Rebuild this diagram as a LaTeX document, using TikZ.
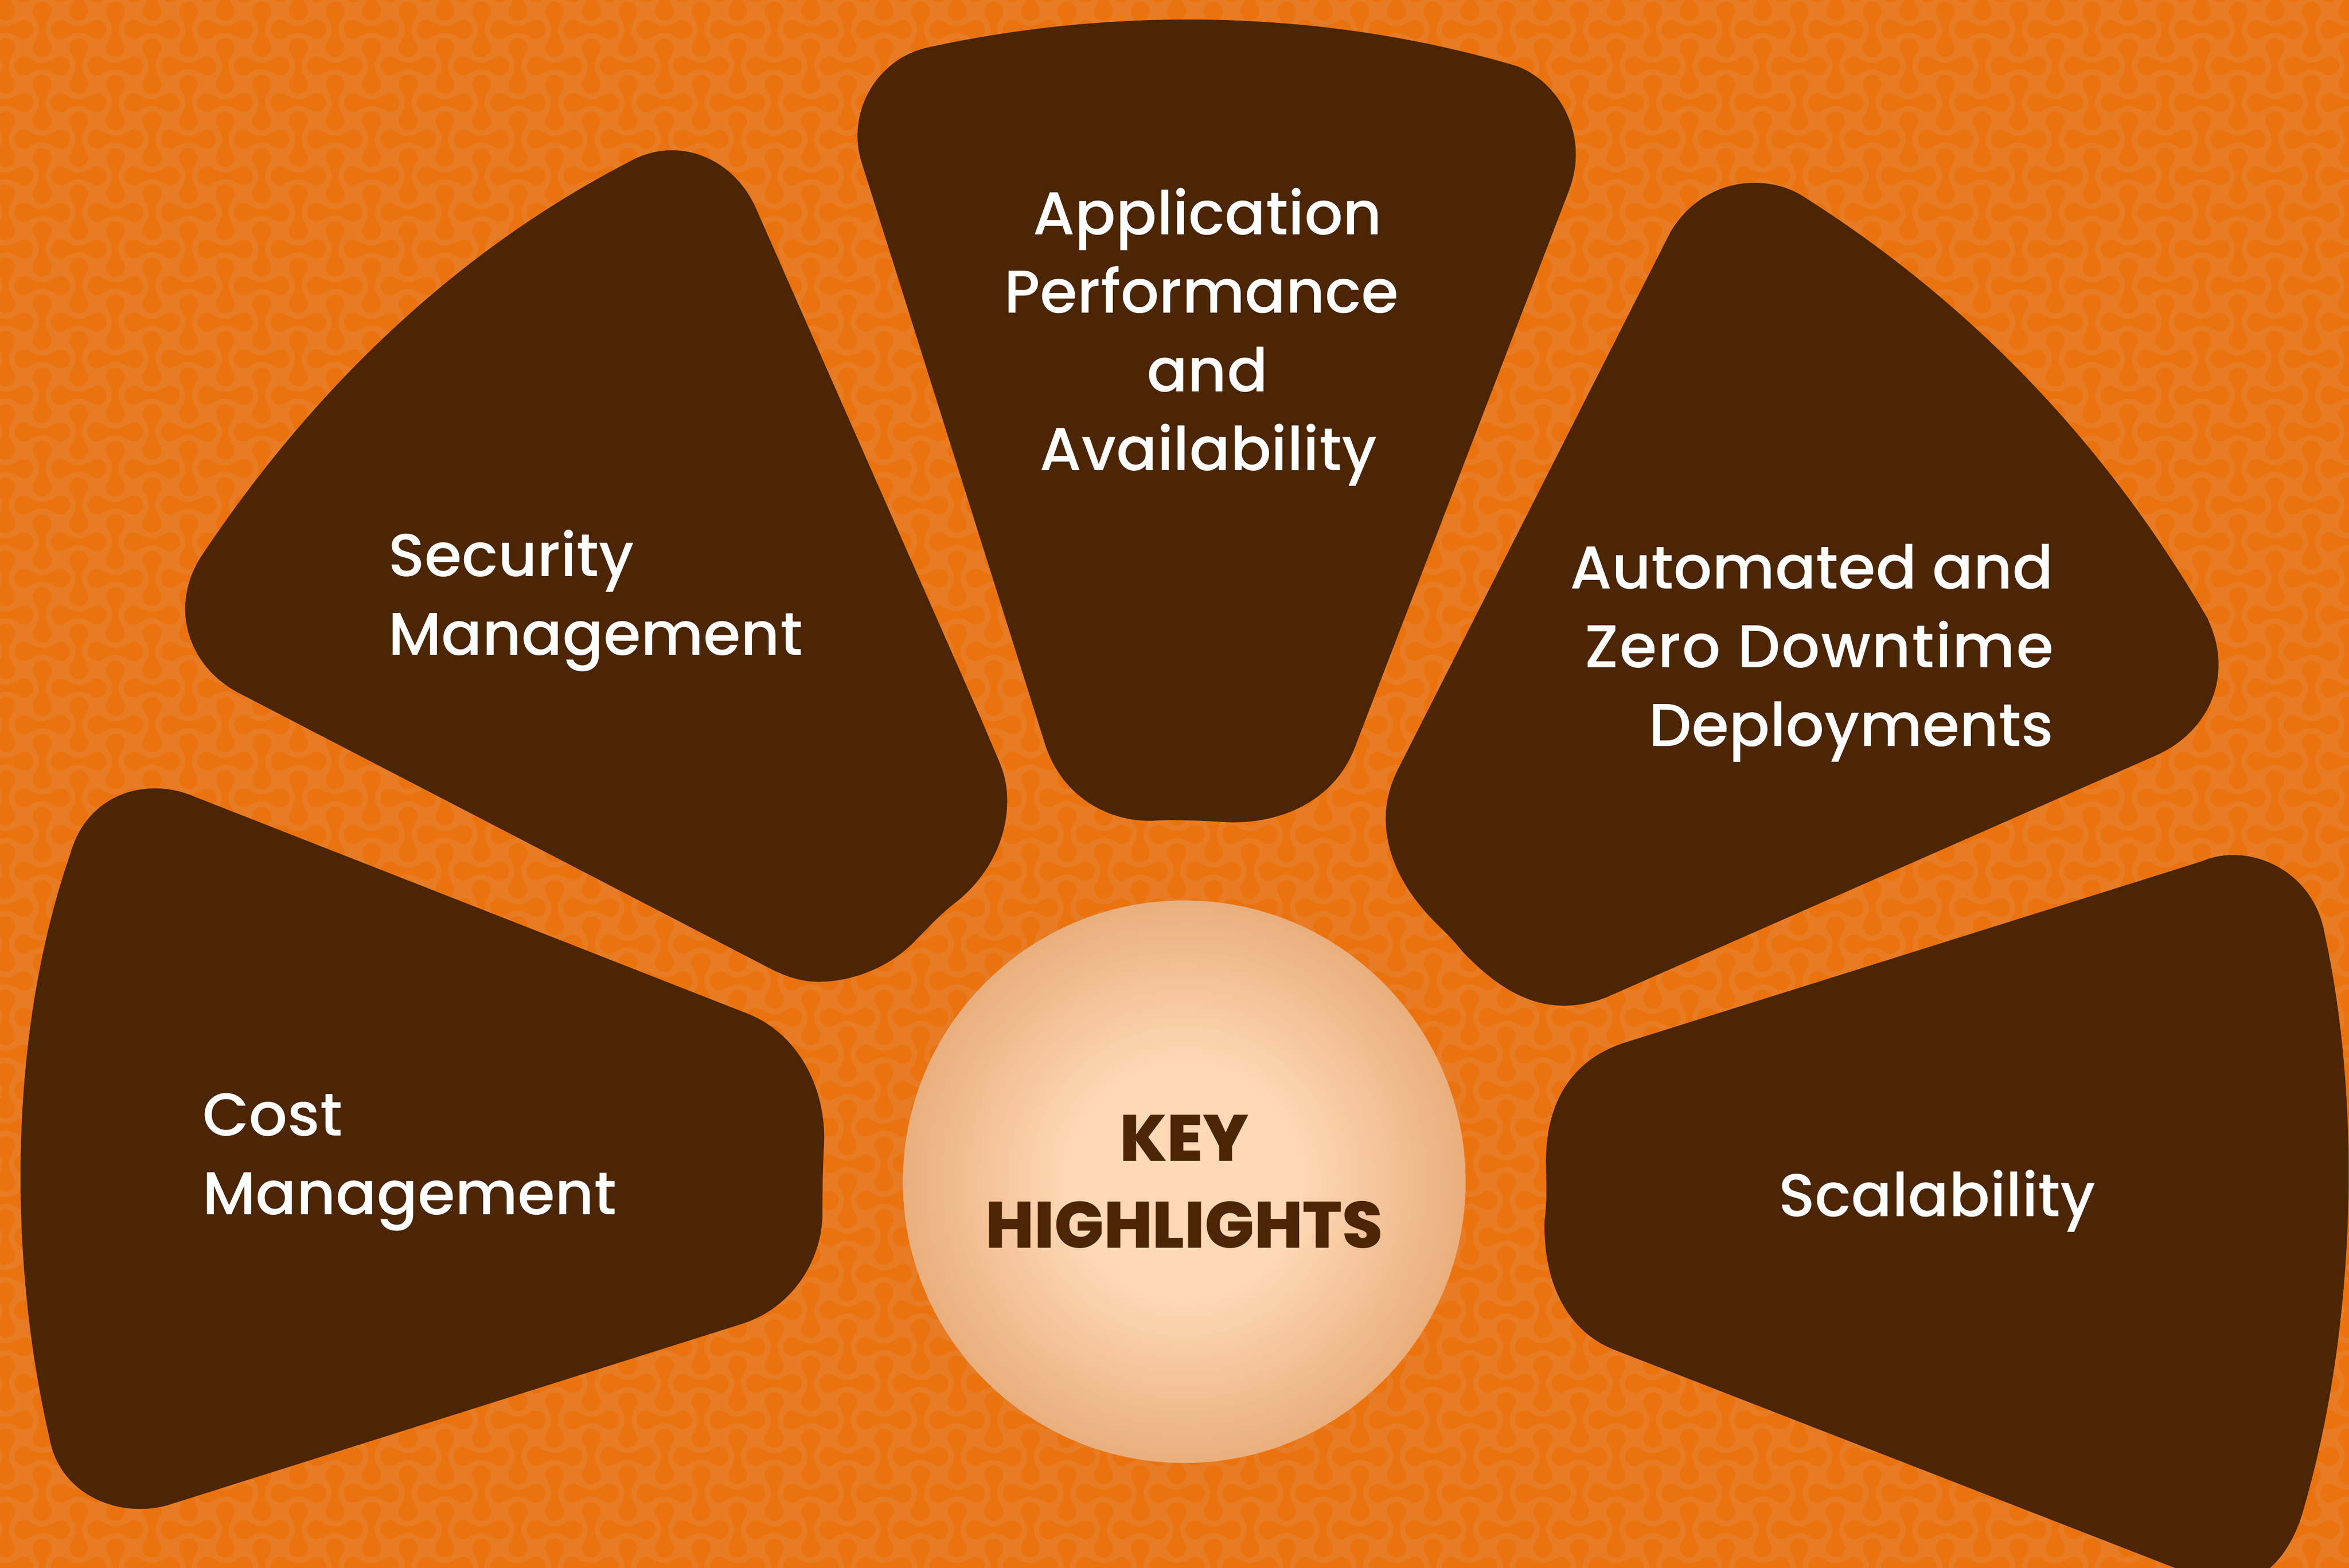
\documentclass[tikz,border=0pt]{standalone}
\usepackage{fontspec}
\setmainfont{Poppins Medium}
\newfontfamily\heavyfont{Poppins ExtraBold}
\definecolor{bglight}{HTML}{E87C24}
\definecolor{bgdark}{HTML}{EB730F}
\definecolor{petal}{HTML}{4B2504}
\definecolor{glowin}{HTML}{FFD8B5}
\definecolor{glowout}{HTML}{E9AF7E}
\tikzset{
  petalshape/.style={fill=petal},
  petaltext/.style={text=white,font=\fontsize{60.5}{78.8}\selectfont,inner sep=0pt},
  hubtext/.style={text=petal,font=\fontsize{65.5}{87}\heavyfont,inner sep=0pt,align=center},
}
% one dumbbell; it is left out when it would lie wholly under a petal or the hub
\newcommand{\inbox}[4]{(\cx>#1)*(\cx<#2)*(\cy>#3)*(\cy<#4)}
\newcommand{\bellshape}[3]{%
  \pgfmathsetmacro{\cx}{#1*0.31868}%
  \pgfmathsetmacro{\cy}{#2*0.31868}%
  \pgfmathtruncatemacro{\hid}{\inbox{690}{920}{45}{400}+\inbox{300}{530}{200}{510}+\inbox{1100}{1320}{260}{530}+\inbox{40}{480}{695}{865}+\inbox{1070}{1540}{715}{885}+\inbox{690}{890}{690}{890}}%
  \ifnum\hid=0
  \fill[shift={(#1,#2)},rotate=#3] (0,-7) .. controls (9,-7) and (20.2,-11.8) .. (26.83,-16.38)
     .. controls (35.14,-22.2) and (46.51,-20.87) .. (53.25,-13.29)
     .. controls (59.99,-5.71) and (59.99,5.71) .. (53.25,13.29)
     .. controls (46.51,20.87) and (35.14,22.2) .. (26.83,16.38)
     .. controls (20.2,11.8) and (9,7) .. (0,7)
     .. controls (-9,7) and (-20.2,11.8) .. (-26.83,16.38)
     .. controls (-35.14,22.2) and (-46.51,20.87) .. (-53.25,13.29)
     .. controls (-59.99,5.71) and (-59.99,-5.71) .. (-53.25,-13.29)
     .. controls (-46.51,-20.87) and (-35.14,-22.2) .. (-26.83,-16.38)
     .. controls (-20.2,-11.8) and (-9,-7) .. (0,-7) -- cycle;
  \fi
}
\begin{document}
\begin{tikzpicture}[x=1.5pt,y=-1.5pt]
\useasboundingbox (0,0) rectangle (1568,1046.9);
\fill[bglight] (0,0) rectangle (1568,1046.9);
\begin{scope}[x=0.47802pt,y=-0.47802pt,fill=bgdark]
\clip (0,0) rectangle (4920,3285);
\foreach \i in {-1,...,32}{
  \foreach \j in {-1,...,21}{
    \pgfmathsetmacro{\ox}{\i*153.33}
    \pgfmathsetmacro{\oy}{\j*153.33}
    \pgfmathsetmacro{\ax}{\ox+165}
    \pgfmathsetmacro{\ay}{\oy+61.7}
    \bellshape{\ax}{\ay}{0}
    \pgfmathsetmacro{\ax}{\ox+88.3}
    \pgfmathsetmacro{\ay}{\oy+138.3}
    \bellshape{\ax}{\ay}{0}
    \pgfmathsetmacro{\ax}{\ox+88.3}
    \pgfmathsetmacro{\ay}{\oy+61.7}
    \bellshape{\ax}{\ay}{90}
    \pgfmathsetmacro{\ax}{\ox+165}
    \pgfmathsetmacro{\ay}{\oy+138.3}
    \bellshape{\ax}{\ay}{90}
  }
}
\end{scope}
% petals
\fill[petalshape] (618,32) .. controls (740,5) and (880,5) .. (1012,44)
  .. controls (1040,54) and (1062,90) .. (1047,128) -- (904,500)
  .. controls (890,535) and (855,550) .. (820,549) .. controls (805,548) and (780,547) .. (770,548)
  .. controls (740,549) and (708,532) .. (697,495) -- (575,108)
  .. controls (565,75) and (585,40) .. (618,32) -- cycle;
\fill[petalshape] (134,372) .. controls (205,265) and (300,170) .. (420,108)
  .. controls (452,90) and (490,105) .. (505,140) -- (654,478) -- (667,508.6)
  .. controls (671,518) and (672.3,526) .. (672.3,534.8)
  .. controls (672.3,560) and (660,585) .. (638,602.5)
  .. controls (628,610) and (620,619) .. (611,628)
  .. controls (595,645) and (570,655.5) .. (546.4,655.5)
  .. controls (535,655.5) and (525,652) .. (515.9,647.6) -- (160,463)
  .. controls (125,445) and (113,405) .. (134,372) -- cycle;
\fill[petalshape] (1205,132) .. controls (1315,202) and (1405,295) .. (1473,412)
  .. controls (1492,450) and (1475,488) .. (1440,504) -- (1072,666)
  .. controls (1030,682) and (1000,660) .. (976.4,635.5)
  .. controls (968,625) and (962,620) .. (955.8,613.5)
  .. controls (938,595) and (925,572) .. (925,546.5)
  .. controls (925,535) and (928,524) .. (933,514) -- (1115,155)
  .. controls (1137,118) and (1180,115) .. (1205,132) -- cycle;
\fill[petalshape] (47,570) .. controls (58,530) and (98,518) .. (130,532) -- (497,676)
  .. controls (535,690) and (552,730) .. (550,765)
  .. controls (549,785) and (549,795) .. (549,810)
  .. controls (549,840) and (530,873) .. (495,884) -- (115,1004)
  .. controls (83,1015) and (40,1000) .. (33,960)
  .. controls (5.3,840) and (5.3,690) .. (47,570) -- cycle;
\fill[petalshape] (1085,696) -- (1470,575) .. controls (1500,562) and (1545,580) .. (1552,625)
  .. controls (1575,730) and (1575,880) .. (1537,1010)
  .. controls (1528,1040) and (1505,1070) .. (1465,1052) -- (1077,901)
  .. controls (1045,888) and (1030,855) .. (1031,815)
  .. controls (1033,800) and (1032,790) .. (1032,775)
  .. controls (1032,735) and (1050,707) .. (1085,696) -- cycle;
% hub: concentric discs give the soft glow
\foreach \k in {0,...,44}{
  \pgfmathsetmacro{\rr}{187.8*(1-0.58*\k/44)}
  \pgfmathsetmacro{\mixv}{100*\k/44}
  \fill[glowin!\mixv!glowout] (790.5,789) circle[radius=\rr];
}
\node[hubtext] (hub) at (790.5,789) {KEY\\HIGHLIGHTS};
% labels
\node[petaltext,align=center] (app) at (802,225) {\hspace*{12pt}Application\\Performance\hspace*{12pt}\\\hspace*{12pt}and\\\hspace*{13.5pt}Availability};
\node[petaltext,align=left,anchor=west] (sec) at (259,401) {Security\\Management};
\node[petaltext,align=right,anchor=east] (auto) at (1371,436) {Automated and\\\addfontfeature{LetterSpace=1.7}Zero Downtime\\Deployments};
\node[petaltext,align=left,anchor=west] (cost) at (135,776) {Cost\\Management};
\node[petaltext,anchor=center] (scal) at (1293,802) {Scalability};
\end{tikzpicture}
\end{document}
